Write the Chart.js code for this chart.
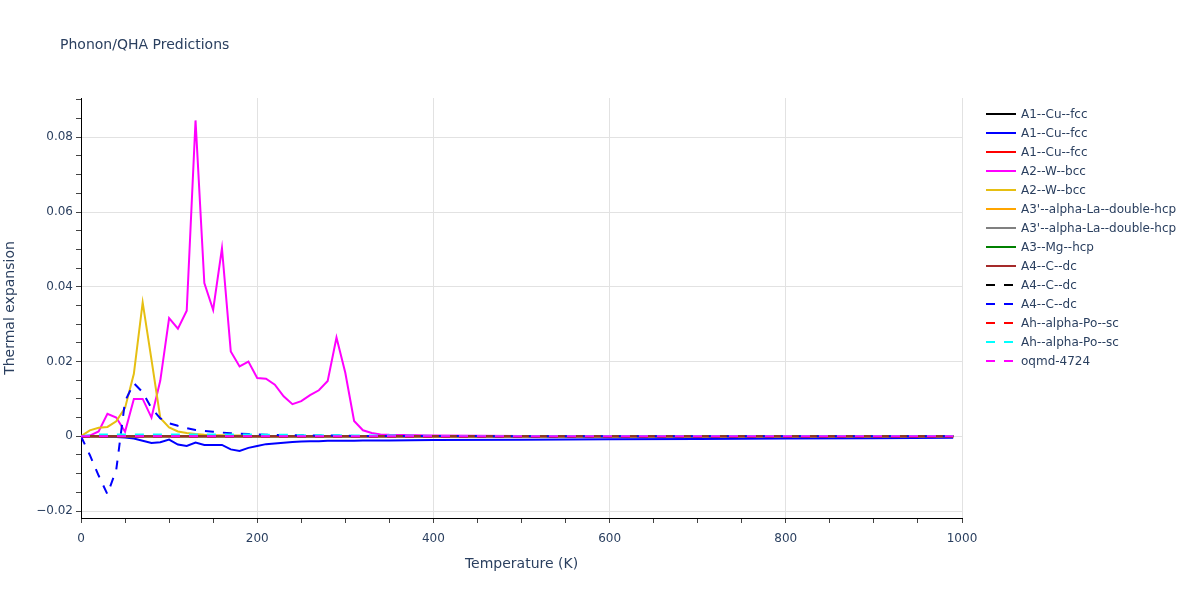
<!DOCTYPE html>
<html>
<head>
<meta charset="utf-8">
<title>Phonon/QHA Predictions</title>
<script src="https://cdn.jsdelivr.net/npm/chart.js@4.4.1/dist/chart.umd.min.js"></script>
<style>
  html, body { margin: 0; padding: 0; background: #fff; }
</style>
</head>
<body>
<canvas id="myChart" width="1200" height="600"></canvas>
<script>
// Temperature points (K), 10 K steps at low T, sparser where every curve is flat
const temperature = [
  0, 10, 20, 30, 40, 50, 60, 70, 80, 90,
  100, 110, 120, 130, 140, 150, 160, 170, 180, 190,
  200, 210, 220, 230, 240, 250, 260, 270, 280, 290,
  300, 310, 320, 330, 340, 350, 400, 500, 600, 700,
  800, 900, 990
];

// Curves that stay on the zero line
const zeroSeries = [
  0, 0, 0, 0, 0, 0, 0, 0, 0, 0,
  0, 0, 0, 0, 0, 0, 0, 0, 0, 0,
  0, 0, 0, 0, 0, 0, 0, 0, 0, 0,
  0, 0, 0, 0, 0, 0, 0, 0, 0, 0,
  0, 0, 0
];

// A1--Cu--fcc (blue, solid)
const cuBlue = [
  0, 0, 0, -0.0001, -0.0002, -0.0003, -0.0006, -0.0012, -0.0018, -0.0016,
  -0.0009, -0.0022, -0.0026, -0.0017, -0.0023, -0.0023, -0.0023, -0.0035, -0.0039, -0.0031,
  -0.0026, -0.0021, -0.0019, -0.0017, -0.0015, -0.0014, -0.0013, -0.0013, -0.0012, -0.0012,
  -0.0012, -0.0012, -0.0011, -0.0011, -0.0011, -0.0011, -0.0010, -0.0009, -0.0008, -0.0007,
  -0.0006, -0.0005, -0.0004
];

// A2--W--bcc (magenta, solid)
const wMagenta = [
  0, 0.0002, 0.0013, 0.006, 0.005, 0.0012, 0.010, 0.010, 0.005, 0.0149,
  0.0316, 0.0288, 0.0336, 0.0845, 0.041, 0.0338, 0.0503, 0.0227, 0.0187, 0.020,
  0.0156, 0.0154, 0.0138, 0.0107, 0.0086, 0.0094, 0.011, 0.0123, 0.0148, 0.0264,
  0.017, 0.0041, 0.0016, 0.0009, 0.0005, 0.0004, 0.0002, 0.0001, 0.0001, 0,
  0, 0, 0
];

// A2--W--bcc (gold, solid)
const wGold = [
  0, 0.0016, 0.0023, 0.0025, 0.004, 0.0076, 0.0167, 0.0358, 0.0205, 0.0049,
  0.0024, 0.0013, 0.0009, 0.0006, 0.0004, 0.0003, 0.0003, 0.0002, 0.0002, 0.0001,
  0.0001, 0.0001, 0.0001, 0.0001, 0.0001, 0.0001, 0.0001, 0.0001, 0.0001, 0.0001,
  0.0001, 0.0001, 0.0001, 0.0001, 0.0001, 0.0001, 0, 0, 0, 0,
  0, 0, 0
];

// A4--C--dc (blue, dashed)
const cBlueDash = [
  0, -0.005, -0.0105, -0.0155, -0.009, 0.0094, 0.0142, 0.0118, 0.0075, 0.0048,
  0.0035, 0.0028, 0.0022, 0.0017, 0.0014, 0.0012, 0.0010, 0.0008, 0.0007, 0.0006,
  0.0005, 0.0004, 0.0004, 0.0003, 0.0003, 0.0003, 0.0002, 0.0002, 0.0002, 0.0002,
  0.0002, 0.0001, 0.0001, 0.0001, 0.0001, 0.0001, 0.0001, 0, 0, 0,
  0, 0, 0
];

// Ah--alpha-Po--sc (cyan, dashed)
const poCyanDash = [
  0, 0.0003, 0.0005, 0.0005, 0.0005, 0.0005, 0.0005, 0.0005, 0.0005, 0.0005,
  0.0005, 0.0005, 0.0005, 0.0005, 0.0005, 0.0005, 0.0005, 0.0005, 0.0005, 0.0005,
  0.0005, 0.0004, 0.0004, 0.0004, 0.0004, 0.0003, 0.0003, 0.0003, 0.0003, 0.0003,
  0.0003, 0.0002, 0.0002, 0.0002, 0.0002, 0.0002, 0.0001, 0.0001, 0.0001, 0.0001,
  0.0001, 0.0001, 0.0001
];

const seriesNames = [
  'A1--Cu--fcc', 'A1--Cu--fcc', 'A1--Cu--fcc', 'A2--W--bcc', 'A2--W--bcc',
  "A3'--alpha-La--double-hcp", "A3'--alpha-La--double-hcp", 'A3--Mg--hcp', 'A4--C--dc',
  'A4--C--dc', 'A4--C--dc', 'Ah--alpha-Po--sc', 'Ah--alpha-Po--sc', 'oqmd-4724'
];
const seriesColors = [
  '#000000', '#0000ff', '#ff0000', '#ff00ff', '#e6bf12',
  '#ffa500', '#808080', '#008000', '#a52a2a',
  '#000000', '#0000ff', '#ff0000', '#00ffff', '#ff00ff'
];
const seriesDashed = [
  false, false, false, false, false,
  false, false, false, false,
  true, true, true, true, true
];
const seriesValues = [
  zeroSeries, cuBlue, zeroSeries, wMagenta, wGold,
  zeroSeries, zeroSeries, zeroSeries, zeroSeries,
  zeroSeries, cBlueDash, zeroSeries, poCyanDash, zeroSeries
];

// Tick labels
const xMajorTicks = [0, 200, 400, 600, 800, 1000];
const yMajorTicks = [-0.02, 0, 0.02, 0.04, 0.06, 0.08];

const textColor = '#2a3f5f';
const fontFamily = "'DejaVu Sans', Verdana, sans-serif";
Chart.defaults.font.family = fontFamily;
Chart.defaults.color = textColor;

function isMajorY(v) {
  return yMajorTicks.some((t) => Math.abs(t - v) < 1e-9);
}

function yLabel(v) {
  if (!isMajorY(v)) return '';
  if (Math.abs(v) < 1e-9) return '0';
  let s = Math.abs(v).toFixed(2);
  return (v < 0 ? '\u2212' : '') + s;
}

// Build datasets, later ones drawn on top like the original
let datasets = [];
for (let i = 0; i < seriesNames.length; i++) {
  datasets.push({
    label: seriesNames[i],
    data: temperature.map((t, j) => ({ x: t, y: seriesValues[i][j] })),
    borderColor: seriesColors[i],
    backgroundColor: seriesColors[i],
    borderWidth: 2,
    borderDash: seriesDashed[i] ? [9, 9] : [],
    pointRadius: 0,
    tension: 0,
    fill: false,
    order: seriesNames.length - i,
  });
}

// Title and legend drawn in plotly's place
const plotlyLegend = {
  id: 'plotlyLegend',
  afterDraw(chart) {
    let ctx = chart.ctx;
    ctx.save();
    ctx.textBaseline = 'middle';
    ctx.fillStyle = textColor;
    ctx.font = '14px ' + fontFamily;
    ctx.fillText('Phonon/QHA Predictions', 60, 45);

    ctx.font = '12px ' + fontFamily;
    chart.data.datasets.forEach(function (ds, i) {
      let y = 114 + i * 19;
      ctx.strokeStyle = ds.borderColor;
      ctx.lineWidth = 2;
      ctx.setLineDash(ds.borderDash);
      ctx.beginPath();
      ctx.moveTo(986, y);
      ctx.lineTo(1016, y);
      ctx.stroke();
      ctx.setLineDash([]);
      ctx.fillStyle = textColor;
      ctx.fillText(ds.label, 1021, y + 1);
    });
    ctx.restore();
  },
};

const ctx = document.getElementById('myChart').getContext('2d');
new Chart(ctx, {
  type: 'line',
  data: { datasets: datasets },
  plugins: [plotlyLegend],
  options: {
    responsive: false,
    animation: false,
    layout: { padding: { left: 0, top: 98, right: 238, bottom: 0 } },
    plugins: {
      legend: { display: false },
      tooltip: { enabled: false },
    },
    scales: {
      x: {
        type: 'linear',
        min: 0,
        max: 1000,
        afterFit: function (scale) { scale.height = 82; },
        ticks: {
          stepSize: 50,
          autoSkip: false,
          maxRotation: 0,
          padding: 9,
          color: textColor,
          font: { size: 12 },
          callback: (v) => (xMajorTicks.includes(v) ? String(v) : ''),
        },
        grid: {
          color: (c) => (c.tick && xMajorTicks.includes(c.tick.value) ? '#e2e2e2' : 'rgba(0,0,0,0)'),
          tickColor: '#444',
          tickLength: 5,
          lineWidth: 1,
        },
        border: { color: '#000', width: 1 },
        title: {
          display: true,
          text: 'Temperature (K)',
          color: textColor,
          font: { size: 14 },
          padding: { top: 0, bottom: 27 },
        },
      },
      y: {
        type: 'linear',
        min: -0.02186,
        max: 0.0905,
        afterFit: function (scale) { scale.width = 81; },
        afterBuildTicks: function (scale) {
          let ticks = [];
          for (let k = -20; k <= 90; k += 5) ticks.push({ value: k / 1000 });
          scale.ticks = ticks;
        },
        ticks: {
          autoSkip: false,
          padding: 3,
          color: textColor,
          font: { size: 12 },
          callback: (v) => yLabel(v),
        },
        grid: {
          color: (c) => (c.tick && isMajorY(c.tick.value) ? '#e2e2e2' : 'rgba(0,0,0,0)'),
          tickColor: '#444',
          tickLength: 5,
          lineWidth: 1,
        },
        border: { color: '#000', width: 1 },
        title: {
          display: true,
          text: 'Thermal expansion',
          color: textColor,
          font: { size: 14 },
          padding: { top: 2, bottom: 0 },
        },
      },
    },
  },
});
</script>
</body>
</html>
